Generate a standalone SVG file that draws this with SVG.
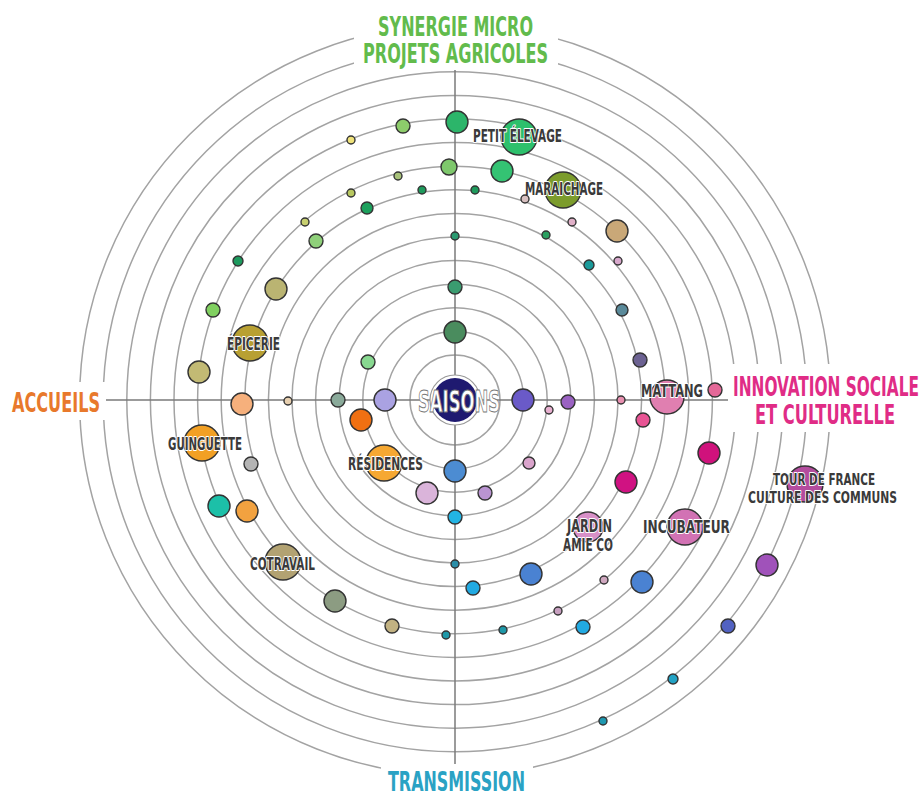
<svg xmlns="http://www.w3.org/2000/svg" width="924" height="794" viewBox="0 0 924 794">
<style>
.ring{fill:none;stroke:#a3a3a3;stroke-width:1.5}
.axis{stroke:#7a7a7a;stroke-width:1.5}
.n{stroke:#333;stroke-width:1.4}
.lbl{font-family:'Liberation Sans Narrow','DejaVu Sans Condensed','DejaVu Sans',sans-serif;font-weight:bold;font-size:17px;fill:#3a3a3a;stroke:#fff;stroke-width:2;paint-order:stroke;stroke-linejoin:round}
.lbl2{font-size:16px}
.ttl{font-family:'Liberation Sans Narrow','DejaVu Sans Condensed','DejaVu Sans',sans-serif;font-weight:bold;font-size:26px}
.bg{fill:#fff}
</style>
<rect width="924" height="794" fill="#fff"/>
<g id="rings">
<circle class="ring" cx="455" cy="400" r="45"/>
<circle class="ring" cx="455" cy="400" r="68.6"/>
<circle class="ring" cx="455" cy="400" r="92.2"/>
<circle class="ring" cx="455" cy="400" r="115.8"/>
<circle class="ring" cx="455" cy="400" r="139.4"/>
<circle class="ring" cx="455" cy="400" r="163"/>
<circle class="ring" cx="455" cy="400" r="186.6"/>
<circle class="ring" cx="455" cy="400" r="210.2"/>
<circle class="ring" cx="455" cy="400" r="233.8"/>
<circle class="ring" cx="455" cy="400" r="257.4"/>
<circle class="ring" cx="455" cy="400" r="281"/>
<circle class="ring" cx="455" cy="400" r="304.6"/>
<circle class="ring" cx="455" cy="400" r="328.2"/>
<circle class="ring" cx="455" cy="400" r="351.8"/>
<circle class="ring" cx="455" cy="400" r="375.4"/>
</g>
<g id="connectors">
<line class="axis" x1="455" y1="25" x2="455" y2="775"/>
<line class="axis" x1="80" y1="400" x2="830" y2="400"/>
</g>
<g id="titles">
<rect class="bg" x="354" y="4" width="204" height="66"/>
<text class="ttl" x="378" y="36" fill="#62bb4c" textLength="155" lengthAdjust="spacingAndGlyphs">SYNERGIE MICRO</text>
<text class="ttl" x="363" y="63" fill="#62bb4c" textLength="185" lengthAdjust="spacingAndGlyphs">PROJETS AGRICOLES</text>
<rect class="bg" x="4" y="382" width="102" height="38"/>
<text class="ttl" x="12" y="412" fill="#e8792c" textLength="88" lengthAdjust="spacingAndGlyphs">ACCUEILS</text>
<rect class="bg" x="728" y="364" width="196" height="68"/>
<text class="ttl" x="733" y="396" fill="#e02c86" textLength="186" lengthAdjust="spacingAndGlyphs">INNOVATION SOCIALE</text>
<text class="ttl" x="755" y="424" fill="#e02c86" textLength="140" lengthAdjust="spacingAndGlyphs">ET CULTURELLE</text>
<rect class="bg" x="381" y="764" width="152" height="30"/>
<text class="ttl" x="388" y="791" fill="#2aa2c4" textLength="137" lengthAdjust="spacingAndGlyphs">TRANSMISSION</text>
</g>
<g id="nodes">
<g id="n1"><circle class="n" cx="457" cy="122" r="11" fill="#2cb56a"/></g>
<g id="petit-elevage"><circle class="n" cx="519" cy="137" r="18" fill="#2dc06c"/><text class="lbl" x="473" y="142" textLength="89" lengthAdjust="spacingAndGlyphs">PETIT ÉLEVAGE</text></g>
<g id="n2"><circle class="n" cx="403" cy="126" r="7" fill="#8dcc6b"/></g>
<g id="n3"><circle class="n" cx="351" cy="140" r="4" fill="#efe27a"/></g>
<g id="n4"><circle class="n" cx="449" cy="167" r="8" fill="#7ec86c"/></g>
<g id="n5"><circle class="n" cx="502" cy="171" r="11" fill="#34c373"/></g>
<g id="maraichage"><circle class="n" cx="563" cy="190" r="18" fill="#7c9c2c"/><text class="lbl" x="525" y="195" textLength="78" lengthAdjust="spacingAndGlyphs">MARAICHAGE</text></g>
<g id="n6"><circle class="n" cx="398" cy="176" r="4" fill="#a8c27a"/></g>
<g id="n7"><circle class="n" cx="422" cy="190" r="4" fill="#1e9a5c"/></g>
<g id="n8"><circle class="n" cx="475" cy="190" r="4" fill="#1e9a5c"/></g>
<g id="n9"><circle class="n" cx="525" cy="199" r="4" fill="#d8c0c0"/></g>
<g id="n10"><circle class="n" cx="351" cy="193" r="4" fill="#b8c860"/></g>
<g id="n11"><circle class="n" cx="367" cy="208" r="6" fill="#1ca05c"/></g>
<g id="n12"><circle class="n" cx="305" cy="222" r="4" fill="#c8d070"/></g>
<g id="n13"><circle class="n" cx="316" cy="241" r="7" fill="#8fd07a"/></g>
<g id="n14"><circle class="n" cx="455" cy="236" r="4" fill="#2a9a70"/></g>
<g id="n15"><circle class="n" cx="546" cy="235" r="4" fill="#2aa060"/></g>
<g id="n16"><circle class="n" cx="572" cy="222" r="4" fill="#e0b0c8"/></g>
<g id="n17"><circle class="n" cx="617" cy="231" r="11" fill="#c9a878"/></g>
<g id="n18"><circle class="n" cx="589" cy="265" r="5" fill="#1a9a9a"/></g>
<g id="n19"><circle class="n" cx="618" cy="261" r="4" fill="#d8a8cc"/></g>
<g id="n20"><circle class="n" cx="238" cy="261" r="5" fill="#1d9a5e"/></g>
<g id="n21"><circle class="n" cx="276" cy="289" r="11" fill="#bab472"/></g>
<g id="n22"><circle class="n" cx="213" cy="310" r="7" fill="#80d060"/></g>
<g id="n23"><circle class="n" cx="455" cy="287" r="7" fill="#3a9c70"/></g>
<g id="n24"><circle class="n" cx="622" cy="310" r="6" fill="#5a8a9a"/></g>
<g id="n25"><circle class="n" cx="455" cy="332" r="11" fill="#4a8c5e"/></g>
<g id="epicerie"><circle class="n" cx="250" cy="343" r="18" fill="#b8a032"/><text class="lbl" x="227" y="350" textLength="53" lengthAdjust="spacingAndGlyphs">ÉPICERIE</text></g>
<g id="n26"><circle class="n" cx="368" cy="362" r="7" fill="#88d890"/></g>
<g id="n27"><circle class="n" cx="640" cy="360" r="7" fill="#6c6292"/></g>
<g id="n28"><circle class="n" cx="199" cy="372" r="11" fill="#c2ba74"/></g>
<g id="mattang"><circle class="n" cx="667" cy="397" r="17" fill="#e07fb0"/><text class="lbl" x="641" y="397" textLength="62" lengthAdjust="spacingAndGlyphs">MATTANG</text></g>
<g id="n29"><circle class="n" cx="715" cy="390" r="7" fill="#e46898"/></g>
<g id="n30"><circle class="n" cx="621" cy="400" r="4" fill="#e890b0"/></g>
<g id="n31"><circle class="n" cx="643" cy="420" r="7" fill="#e85494"/></g>
<g id="n32"><circle class="n" cx="242" cy="404" r="11" fill="#f6b07c"/></g>
<g id="n33"><circle class="n" cx="288" cy="401" r="4" fill="#e8d0b0"/></g>
<g id="n34"><circle class="n" cx="338" cy="400" r="7" fill="#8aaa9a"/></g>
<g id="n35"><circle class="n" cx="385" cy="400" r="11" fill="#aaa2e2"/></g>
<g id="saisons"><circle cx="455" cy="400" r="25" fill="#fff" stroke="#999" stroke-width="1.2"/><circle cx="455" cy="400" r="22" fill="#1f1a70"/><text x="418" y="412" font-family="'Liberation Sans Narrow','DejaVu Sans Condensed','DejaVu Sans',sans-serif" font-weight="bold" font-size="30" fill="#fff" stroke="#777" stroke-width="1" textLength="82" lengthAdjust="spacingAndGlyphs">SAISONS</text></g>
<g id="n36"><circle class="n" cx="523" cy="400" r="11" fill="#6a5ac8"/></g>
<g id="n37"><circle class="n" cx="549" cy="410" r="4" fill="#e8b0d0"/></g>
<g id="n38"><circle class="n" cx="568" cy="402" r="7" fill="#9a62c2"/></g>
<g id="n39"><circle class="n" cx="361" cy="420" r="11" fill="#f07012"/></g>
<g id="guinguette"><circle class="n" cx="202" cy="443" r="18" fill="#f2a024"/><text class="lbl" x="168" y="450" textLength="74" lengthAdjust="spacingAndGlyphs">GUINGUETTE</text></g>
<g id="n40"><circle class="n" cx="709" cy="453" r="11" fill="#d0127c"/></g>
<g id="residences"><circle class="n" cx="384" cy="463" r="18" fill="#f6a832"/><text class="lbl" x="348" y="470" textLength="75" lengthAdjust="spacingAndGlyphs">RÉSIDENCES</text></g>
<g id="n41"><circle class="n" cx="455" cy="471" r="11" fill="#4c8cd2"/></g>
<g id="n42"><circle class="n" cx="529" cy="463" r="6" fill="#daa4cc"/></g>
<g id="n43"><circle class="n" cx="251" cy="464" r="7" fill="#b4b4b4"/></g>
<g id="n44"><circle class="n" cx="626" cy="482" r="11" fill="#d01282"/></g>
<g id="tour-de-france"><circle class="n" cx="805" cy="484" r="18" fill="#b44c9e"/><text class="lbl lbl2" x="773" y="485" textLength="102" lengthAdjust="spacingAndGlyphs">TOUR DE FRANCE</text><text class="lbl lbl2" x="748" y="503" textLength="149" lengthAdjust="spacingAndGlyphs">CULTURE DES COMMUNS</text></g>
<g id="n45"><circle class="n" cx="427" cy="493" r="11" fill="#dab4da"/></g>
<g id="n46"><circle class="n" cx="485" cy="493" r="7" fill="#ba94d2"/></g>
<g id="n47"><circle class="n" cx="219" cy="506" r="11" fill="#1cc0a8"/></g>
<g id="n48"><circle class="n" cx="247" cy="511" r="11" fill="#f2a240"/></g>
<g id="n49"><circle class="n" cx="455" cy="517" r="7" fill="#22b4e4"/></g>
<g id="jardin-amie-co"><circle class="n" cx="588" cy="527" r="15" fill="#d890c8"/><text class="lbl" x="567" y="532" textLength="45" lengthAdjust="spacingAndGlyphs">JARDIN</text><text class="lbl" x="563" y="551" textLength="50" lengthAdjust="spacingAndGlyphs">AMIE CO</text></g>
<g id="incubateur"><circle class="n" cx="685" cy="527" r="18" fill="#d272b4"/><text class="lbl" x="643" y="533" textLength="87" lengthAdjust="spacingAndGlyphs">INCUBATEUR</text></g>
<g id="cotravail"><circle class="n" cx="283" cy="562" r="18" fill="#b2a272"/><text class="lbl" x="250" y="570" textLength="65" lengthAdjust="spacingAndGlyphs">COTRAVAIL</text></g>
<g id="n50"><circle class="n" cx="455" cy="564" r="4" fill="#2a8ea8"/></g>
<g id="n51"><circle class="n" cx="531" cy="574" r="11" fill="#4a82d2"/></g>
<g id="n52"><circle class="n" cx="604" cy="580" r="4" fill="#d0a8c0"/></g>
<g id="n53"><circle class="n" cx="642" cy="582" r="11" fill="#4a82d2"/></g>
<g id="n54"><circle class="n" cx="767" cy="565" r="11" fill="#a052ba"/></g>
<g id="n55"><circle class="n" cx="473" cy="588" r="7" fill="#22aae2"/></g>
<g id="n56"><circle class="n" cx="335" cy="601" r="11" fill="#8c9c82"/></g>
<g id="n57"><circle class="n" cx="558" cy="611" r="4" fill="#c8a0c0"/></g>
<g id="n58"><circle class="n" cx="583" cy="627" r="7" fill="#22aae2"/></g>
<g id="n59"><circle class="n" cx="392" cy="626" r="7" fill="#c2b282"/></g>
<g id="n60"><circle class="n" cx="446" cy="635" r="4" fill="#1e98a8"/></g>
<g id="n61"><circle class="n" cx="503" cy="630" r="4" fill="#1e98a8"/></g>
<g id="n62"><circle class="n" cx="728" cy="626" r="7" fill="#5262c2"/></g>
<g id="n63"><circle class="n" cx="673" cy="679" r="5" fill="#22a2c4"/></g>
<g id="n64"><circle class="n" cx="603" cy="721" r="4" fill="#1e98b0"/></g>
</g>
</svg>
